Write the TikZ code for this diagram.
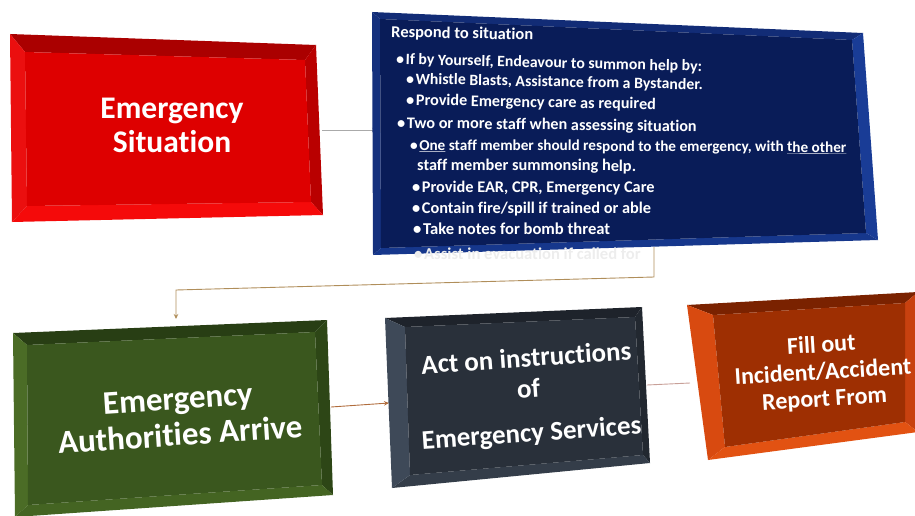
\documentclass[tikz,border=0pt]{standalone}
\usepackage{fontspec}
\setmainfont{Carlito}[Ligatures=NoCommon]
\usetikzlibrary{arrows.meta}

% bevel colours of the five tiles
\definecolor{redface}{RGB}{222,0,0}
\definecolor{redtop}{RGB}{170,0,0}
\definecolor{redright}{RGB}{185,0,0}
\definecolor{redbottom}{RGB}{245,10,10}
\definecolor{redleft}{RGB}{235,15,15}
\definecolor{blueface}{RGB}{9,28,88}
\definecolor{bluetop}{RGB}{18,44,118}
\definecolor{blueright}{RGB}{25,60,150}
\definecolor{bluebottom}{RGB}{22,55,140}
\definecolor{blueleft}{RGB}{20,48,125}
\definecolor{greenface}{RGB}{58,87,30}
\definecolor{greentop}{RGB}{40,62,20}
\definecolor{greenright}{RGB}{45,70,22}
\definecolor{greenbottom}{RGB}{68,100,34}
\definecolor{greenleft}{RGB}{75,108,38}
\definecolor{slateface}{RGB}{41,48,58}
\definecolor{slatetop}{RGB}{30,35,43}
\definecolor{slateright}{RGB}{34,40,48}
\definecolor{slatebottom}{RGB}{52,61,73}
\definecolor{slateleft}{RGB}{62,73,88}
\definecolor{rustface}{RGB}{158,47,2}
\definecolor{rusttop}{RGB}{122,34,0}
\definecolor{rustright}{RGB}{200,65,15}
\definecolor{rustbottom}{RGB}{226,82,18}
\definecolor{rustleft}{RGB}{216,74,16}
\definecolor{greyline}{RGB}{170,170,170}
\definecolor{tanline}{RGB}{176,142,90}
\definecolor{brownline}{RGB}{176,108,60}
\definecolor{pinkline}{RGB}{200,160,152}

% a tile: four bevel faces and a front face, from corners <name>o1..o4 and <name>i1..i4
\newcommand{\bevelbox}[6]{%
  \fill[#3] (#1o1) -- (#1o2) -- (#1i2) -- (#1i1) -- cycle;
  \fill[#4] (#1o2) -- (#1o3) -- (#1i3) -- (#1i2) -- cycle;
  \fill[#5] (#1o3) -- (#1o4) -- (#1i4) -- (#1i3) -- cycle;
  \fill[#6] (#1o4) -- (#1o1) -- (#1i1) -- (#1i4) -- cycle;
  \fill[#2] (#1i1) -- (#1i2) -- (#1i3) -- (#1i4) -- cycle;
}

\tikzset{
  tiletext/.style={text=white, align=center, font=\bfseries, inner sep=0pt},
  listline/.style={text=white, anchor=base west, inner sep=0pt},
  fs/.style={font=\bfseries\fontsize{#1}{#1}\selectfont},
  link/.style={line width=0.9pt},
  tip/.style={-{Stealth[length=5pt,width=4.5pt]}}
}
\newcommand{\bul}{\makebox[0.6em][l]{•}}

\begin{document}
\begin{tikzpicture}[x=1pt,y=-1pt]
\useasboundingbox (0,0) rectangle (915,516);

% ---- corners of the tiles ----
\coordinate (redo1) at (10,34);   \coordinate (redo2) at (316,45);
\coordinate (redo3) at (323,215); \coordinate (redo4) at (12,222);
\coordinate (redi1) at (25,52);   \coordinate (redi2) at (305,60);
\coordinate (redi3) at (311,202); \coordinate (redi4) at (27,206);

\coordinate (bluo1) at (372,12);  \coordinate (bluo2) at (863,33);
\coordinate (bluo3) at (878,240); \coordinate (bluo4) at (373,255);
\coordinate (blui1) at (380,19);  \coordinate (blui2) at (852,40);
\coordinate (blui3) at (866,233); \coordinate (blui4) at (381,248);

\coordinate (greo1) at (13,333);  \coordinate (greo2) at (327,320);
\coordinate (greo3) at (333,495); \coordinate (greo4) at (15,517);
\coordinate (grei1) at (27,345);  \coordinate (grei2) at (315,332);
\coordinate (grei3) at (322,485); \coordinate (grei4) at (28,505);

\coordinate (slao1) at (385,318); \coordinate (slao2) at (642,307);
\coordinate (slao3) at (650,463); \coordinate (slao4) at (392,488);
\coordinate (slai1) at (405,327); \coordinate (slai2) at (635,317);
\coordinate (slai3) at (643,455); \coordinate (slai4) at (410,475);

\coordinate (ruso1) at (687,305); \coordinate (ruso2) at (918,292);
\coordinate (ruso3) at (918,432); \coordinate (ruso4) at (708,460);
\coordinate (rusi1) at (713,315); \coordinate (rusi2) at (905,303);
\coordinate (rusi3) at (905,422); \coordinate (rusi4) at (725,447);

% ---- connector ends ----
\coordinate (redR)   at (322,130);
\coordinate (bluL)   at (377,130);
\coordinate (bluB)   at (654,247);
\coordinate (bend1)  at (654,277);
\coordinate (bend2)  at (176,290);
\coordinate (greT)   at (176,319);
\coordinate (greR)   at (331,407);
\coordinate (slaL)   at (389,403);
\coordinate (slaR)   at (647,385);
\coordinate (rusL)   at (690,383);

% ---- connectors ----
\draw[link, greyline, tip] (redR) -- (bluL);
\draw[link, tanline, tip] (bluB) -- (bend1) -- (bend2) -- (greT);
\draw[link, brownline, tip] (greR) -- (slaL);
\draw[link, pinkline] (slaR) -- (rusL);

% ---- tiles ----
\bevelbox{red}{redface}{redtop}{redright}{redbottom}{redleft}
\bevelbox{blu}{blueface}{bluetop}{blueright}{bluebottom}{blueleft}
\bevelbox{gre}{greenface}{greentop}{greenright}{greenbottom}{greenleft}
\bevelbox{sla}{slateface}{slatetop}{slateright}{slatebottom}{slateleft}
\bevelbox{rus}{rustface}{rusttop}{rustright}{rustbottom}{rustleft}

% ---- tile texts ----
\node[tiletext, font=\bfseries\fontsize{31.5}{34}\selectfont] (emerg) at (172,125)
  {Emergency\\Situation};
\node[tiletext, rotate=3.8, font=\bfseries\fontsize{33}{36}\selectfont] (arrive) at (179,417)
  {Emergency\\Authorities Arrive};
\node[tiletext, rotate=4, font=\bfseries\fontsize{27}{31}\selectfont] (act) at (529,397)
  {Act on instructions\\of\\[13pt]Emergency Services};
\node[tiletext, rotate=3.5, font=\bfseries\fontsize{24}{27}\selectfont] (report) at (823,373)
  {Fill out\\Incident/Accident\\Report From};

% ---- response list ----
\node[listline, fs=16.5, rotate=-1.2] (resp) at (391,37) {Respond to situation};
\node[listline, fs=15.8, rotate=-1.4] (ln1) at (396,64) {\bul If by Yourself, Endeavour to summon help by:};
\node[listline, fs=15.8, rotate=-1.1] (ln2) at (406,84) {\bul Whistle Blasts, Assistance from a Bystander.};
\node[listline, fs=16.2, rotate=-1.0] (ln3) at (406,105) {\bul Provide Emergency care as required};
\node[listline, fs=16.2, rotate=-0.7] (ln4) at (397,128) {\bul Two or more staff when assessing situation};
\node[listline, fs=15.2, rotate=-0.3] (ln5) at (410,150) {\bul \underline{One} staff member should respond to the emergency, with \underline{the other}};
\node[listline, fs=16.3, rotate=-0.3] (ln6) at (417,170) {staff member summonsing help.};
\node[listline, fs=16.3, rotate=-0.2] (ln7) at (412,192) {\bul Provide EAR, CPR, Emergency Care};
\node[listline, fs=16.3, rotate=-0.1] (ln8) at (412,213) {\bul Contain fire/spill if trained or able};
\node[listline, fs=16.6] (ln9) at (413,234) {\bul Take notes for bomb threat};
\node[listline, fs=16.6, text=black!7] (ln10) at (414,259) {\bul Assist in evacuation if called for};
\end{tikzpicture}
\end{document}
